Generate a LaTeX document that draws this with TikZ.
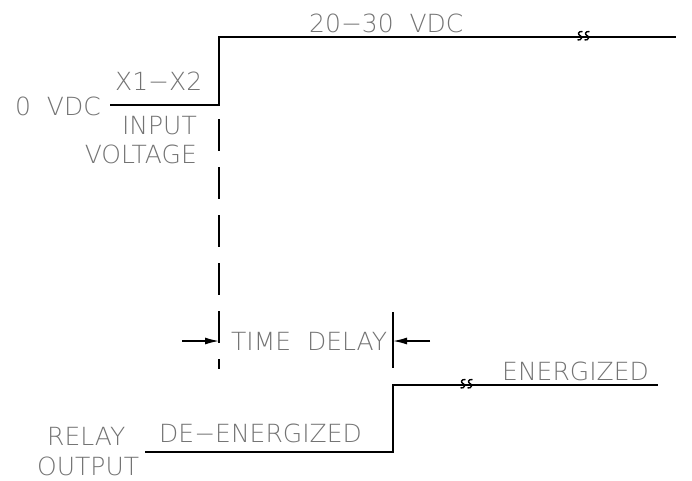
\documentclass[tikz,border=0pt]{standalone}
\usepackage{fontspec}
\setmainfont{DejaVu Sans ExtraLight}[WordSpace=2]
\usetikzlibrary{arrows.meta}
\definecolor{txtgray}{RGB}{115,115,115}
\tikzset{
  lbl/.style={inner sep=0pt, text=txtgray, font=\fontsize{25}{25}\selectfont},
  sig/.style={line width=1.6pt, black},
  dashsig/.style={line width=1.6pt, black, dash pattern=on 32pt off 16pt},
  dimarrow/.style={line width=1.4pt, black, -{Latex[length=14pt,width=7pt]}},
  brk/.pic={\draw[line width=1.4pt] (2.5,-7) .. controls (-2,-7.5) and (-2.5,-4) .. (0,-3) .. controls (2.5,-2) and (2,2) .. (-2.5,1.5);
            \draw[line width=1.4pt] (9.5,-7) .. controls (5,-7.5) and (4.5,-4) .. (7,-3) .. controls (9.5,-2) and (9,2) .. (4.5,1.5);}
}
\begin{document}
\begin{tikzpicture}[x=1pt,y=-1pt]
\useasboundingbox (0,0) rectangle (692,480);
% input signal
\coordinate (inA) at (110,105);
\coordinate (inB) at (219,105);
\coordinate (inC) at (219,37);
\coordinate (inD) at (676,37);
\draw[sig] (inA) -- (inB) -- (inC) -- (inD);
\pic at (580,38.5) {brk};
% dashed marker
\coordinate (dA) at (219,119);
\coordinate (dB) at (219,369);
\draw[dashsig] (dA) -- (dB);
% relay output
\coordinate (oA) at (145,452);
\coordinate (oB) at (393,452);
\coordinate (oC) at (393,385);
\coordinate (oD) at (658,385);
\draw[sig] (oA) -- (oB) -- (oC) -- (oD);
\pic at (463,386.5) {brk};
% time delay marker
\coordinate (tA) at (393,312);
\coordinate (tB) at (393,368);
\draw[sig] (tA) -- (tB);
\coordinate (arL0) at (182,341);
\coordinate (arL1) at (219,341);
\coordinate (arR0) at (430,341);
\coordinate (arR1) at (393,341);
\draw[dimarrow] (arL0) -- (arL1);
\draw[dimarrow] (arR0) -- (arR1);
% labels
\node[lbl, anchor=base west] (hi) at (309,32) {20−30 VDC};
\node[lbl, anchor=base west] (x12) at (115,90) {X1−X2};
\node[lbl, anchor=base west] (zero) at (15,115) {0 VDC};
\node[lbl, anchor=base east] (inp) at (197,134) {INPUT};
\node[lbl, anchor=base east] (volt) at (197,163) {VOLTAGE};
\node[lbl, anchor=base west] (td) at (231,350) {TIME DELAY};
\node[lbl, anchor=base west] (en) at (502,380) {ENERGIZED};
\node[lbl, anchor=base west] (de) at (159,442) {DE−ENERGIZED};
\node[lbl, anchor=base west] (rel) at (47,445) {RELAY};
\node[lbl, anchor=base west] (out) at (37,475) {OUTPUT};
\end{tikzpicture}
\end{document}
